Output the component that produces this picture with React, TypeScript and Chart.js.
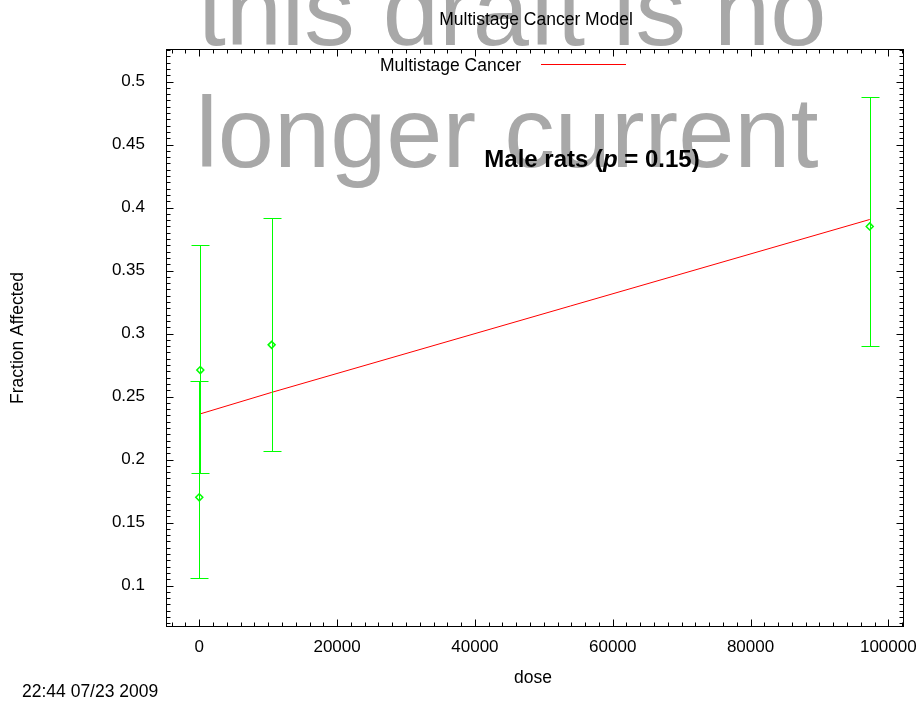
import React, { useEffect, useRef } from "react";
import { Chart, registerables } from "chart.js";

Chart.register(...registerables);

// ---- data ----
const doses = [150, 0, 10500, 97300];
const fractions = [0.271, 0.170, 0.291, 0.385];
const lowerBounds = [0.189, 0.106, 0.207, 0.290];
const upperBounds = [0.370, 0.262, 0.392, 0.488];

const modelDoses = [0, 10500, 97300];
const modelFractions = [0.236, 0.2533, 0.3905];

const xTickValues = [0, 20000, 40000, 60000, 80000, 100000];
const xTickLabels = ["0", "20000", "40000", "60000", "80000", "100000"];
const yTickValues = [0.1, 0.15, 0.2, 0.25, 0.3, 0.35, 0.4, 0.45, 0.5];
const yTickLabels = ["0.1", "0.15", "0.2", "0.25", "0.3", "0.35", "0.4", "0.45", "0.5"];

const X_MIN = -4830;
const X_MAX = 102130;
const Y_MIN = 0.0679;
const Y_MAX = 0.5258;
const X_MINOR_STEP = 2000;
const Y_MINOR_STEP = 0.005;

const FONT = "'Liberation Sans', Arial, Helvetica, sans-serif";
const GREEN = "#00ff00";
const RED = "#ff0000";

const backgroundPlugin = {
  id: "bgWatermark",
  beforeDraw(chart: any) {
    const ctx = chart.ctx;
    ctx.save();
    ctx.fillStyle = "#ffffff";
    ctx.fillRect(0, 0, chart.width, chart.height);
    ctx.fillStyle = "#a8a8a8";
    ctx.font = `101px ${FONT}`;
    ctx.textAlign = "center";
    ctx.textBaseline = "alphabetic";
    ctx.fillText("this draft is no", 512, 45);
    ctx.fillText("longer current", 507, 167);
    ctx.restore();
  },
};

const errorBarPlugin = {
  id: "errorBars",
  afterDatasetsDraw(chart: any) {
    const ctx = chart.ctx;
    const xs = chart.scales.x;
    const ys = chart.scales.y;
    ctx.save();
    ctx.strokeStyle = GREEN;
    ctx.lineWidth = 1;
    for (let i = 0; i < doses.length; i++) {
      const px = Math.round(xs.getPixelForValue(doses[i])) + 0.5;
      const lo = Math.round(ys.getPixelForValue(lowerBounds[i])) + 0.5;
      const hi = Math.round(ys.getPixelForValue(upperBounds[i])) + 0.5;
      ctx.beginPath();
      ctx.moveTo(px, lo);
      ctx.lineTo(px, hi);
      ctx.moveTo(px - 9, lo);
      ctx.lineTo(px + 9, lo);
      ctx.moveTo(px - 9, hi);
      ctx.lineTo(px + 9, hi);
      ctx.stroke();
    }
    ctx.restore();
  },
};

const framePlugin = {
  id: "frameAndText",
  afterDraw(chart: any) {
    const ctx = chart.ctx;
    const a = chart.chartArea;
    const xs = chart.scales.x;
    const ys = chart.scales.y;
    ctx.save();
    ctx.strokeStyle = "#000000";
    ctx.lineWidth = 1;
    const L = Math.round(a.left) + 0.5;
    const R = Math.round(a.right) + 0.5;
    const T = Math.round(a.top) + 0.5;
    const B = Math.round(a.bottom) + 0.5;
    ctx.strokeRect(L, T, R - L, B - T);

    ctx.beginPath();
    for (let v = Math.ceil(X_MIN / X_MINOR_STEP) * X_MINOR_STEP; v <= X_MAX; v += X_MINOR_STEP) {
      const major = xTickValues.includes(v);
      const len = major ? 7 : 4;
      const px = Math.round(xs.getPixelForValue(v)) + 0.5;
      ctx.moveTo(px, B);
      ctx.lineTo(px, B - len);
      ctx.moveTo(px, T);
      ctx.lineTo(px, T + len);
    }
    const n0 = Math.ceil(Y_MIN / Y_MINOR_STEP);
    const n1 = Math.floor(Y_MAX / Y_MINOR_STEP);
    for (let n = n0; n <= n1; n++) {
      const v = n * Y_MINOR_STEP;
      const major = n % 10 === 0;
      const len = major ? 7 : 4;
      const py = Math.round(ys.getPixelForValue(v)) + 0.5;
      ctx.moveTo(L, py);
      ctx.lineTo(L + len, py);
      ctx.moveTo(R, py);
      ctx.lineTo(R - len, py);
    }
    ctx.stroke();

    ctx.fillStyle = "#000000";
    ctx.textBaseline = "alphabetic";
    ctx.font = `17.5px ${FONT}`;
    ctx.textAlign = "center";
    ctx.fillText("Multistage Cancer Model", 536, 25);

    ctx.textAlign = "right";
    ctx.fillText("Multistage Cancer", 521, 71);
    ctx.strokeStyle = RED;
    ctx.beginPath();
    ctx.moveTo(541, 64.5);
    ctx.lineTo(626, 64.5);
    ctx.stroke();

    ctx.textAlign = "center";
    ctx.fillText("dose", 533, 683);
    ctx.textAlign = "left";
    ctx.fillText("22:44 07/23 2009", 22, 697);
    ctx.save();
    ctx.translate(23, 338);
    ctx.rotate(-Math.PI / 2);
    ctx.textAlign = "center";
    ctx.fillText("Fraction Affected", 0, 0);
    ctx.restore();

    const bold = `bold 24px ${FONT}`;
    const boldItalic = `italic bold 24px ${FONT}`;
    const parts: [string, string][] = [
      ["Male rats (", bold],
      ["p", boldItalic],
      [" = 0.15)", bold],
    ];
    let total = 0;
    for (const [t, f] of parts) {
      ctx.font = f;
      total += ctx.measureText(t).width;
    }
    let x = 592 - total / 2;
    ctx.textAlign = "left";
    for (const [t, f] of parts) {
      ctx.font = f;
      ctx.fillText(t, x, 167);
      x += ctx.measureText(t).width;
    }
    ctx.restore();
  },
};

export default function App() {
  const ref = useRef<HTMLCanvasElement>(null);

  useEffect(() => {
    const canvas = ref.current;
    if (!canvas) return;
    const chart = new Chart(canvas, {
      type: "scatter",
      data: {
        datasets: [
          {
            label: "Multistage Cancer",
            data: modelDoses.map((d, i) => ({ x: d, y: modelFractions[i] })),
            showLine: true,
            borderColor: RED,
            borderWidth: 1,
            pointRadius: 0,
            fill: false,
          },
          {
            label: "Observed",
            data: doses.map((d, i) => ({ x: d, y: fractions[i] })),
            showLine: false,
            pointStyle: "rectRot",
            pointRadius: 3.5,
            borderColor: GREEN,
            backgroundColor: "rgba(0,0,0,0)",
            borderWidth: 1.5,
          },
        ],
      },
      options: {
        responsive: false,
        animation: false,
        events: [],
        layout: { padding: { top: 49, right: 18, left: 0, bottom: 0 } },
        plugins: {
          legend: { display: false },
          title: { display: false },
          tooltip: { enabled: false },
        },
        scales: {
          x: {
            type: "linear",
            min: X_MIN,
            max: X_MAX,
            grid: { display: false, drawTicks: false },
            border: { display: false },
            afterFit: (s: any) => {
              s.height = 80;
              s.paddingLeft = 0;
              s.paddingRight = 0;
            },
            afterBuildTicks: (s: any) => {
              s.ticks = xTickValues.map((v) => ({ value: v }));
            },
            ticks: {
              autoSkip: false,
              maxRotation: 0,
              minRotation: 0,
              padding: 11,
              color: "#000000",
              font: { family: FONT, size: 17 },
              callback: (v: any) => {
                const i = xTickValues.indexOf(Number(v));
                return i >= 0 ? xTickLabels[i] : String(v);
              },
            },
          },
          y: {
            type: "linear",
            min: Y_MIN,
            max: Y_MAX,
            grid: { display: false, drawTicks: false },
            border: { display: false },
            afterFit: (s: any) => {
              s.width = 166;
              s.paddingTop = 0;
              s.paddingBottom = 0;
            },
            afterBuildTicks: (s: any) => {
              s.ticks = yTickValues.map((v) => ({ value: v }));
            },
            ticks: {
              autoSkip: false,
              padding: 21,
              color: "#000000",
              font: { family: FONT, size: 17 },
              callback: (v: any) => {
                const i = yTickValues.indexOf(Number(v));
                return i >= 0 ? yTickLabels[i] : String(v);
              },
            },
          },
        },
      } as any,
      plugins: [backgroundPlugin, errorBarPlugin, framePlugin],
    });
    return () => chart.destroy();
  }, []);

  return (
    <div style={{ position: "absolute", left: 0, top: 0, width: 921, height: 706 }}>
      <canvas ref={ref} width={921} height={706} style={{ display: "block" }} />
    </div>
  );
}
